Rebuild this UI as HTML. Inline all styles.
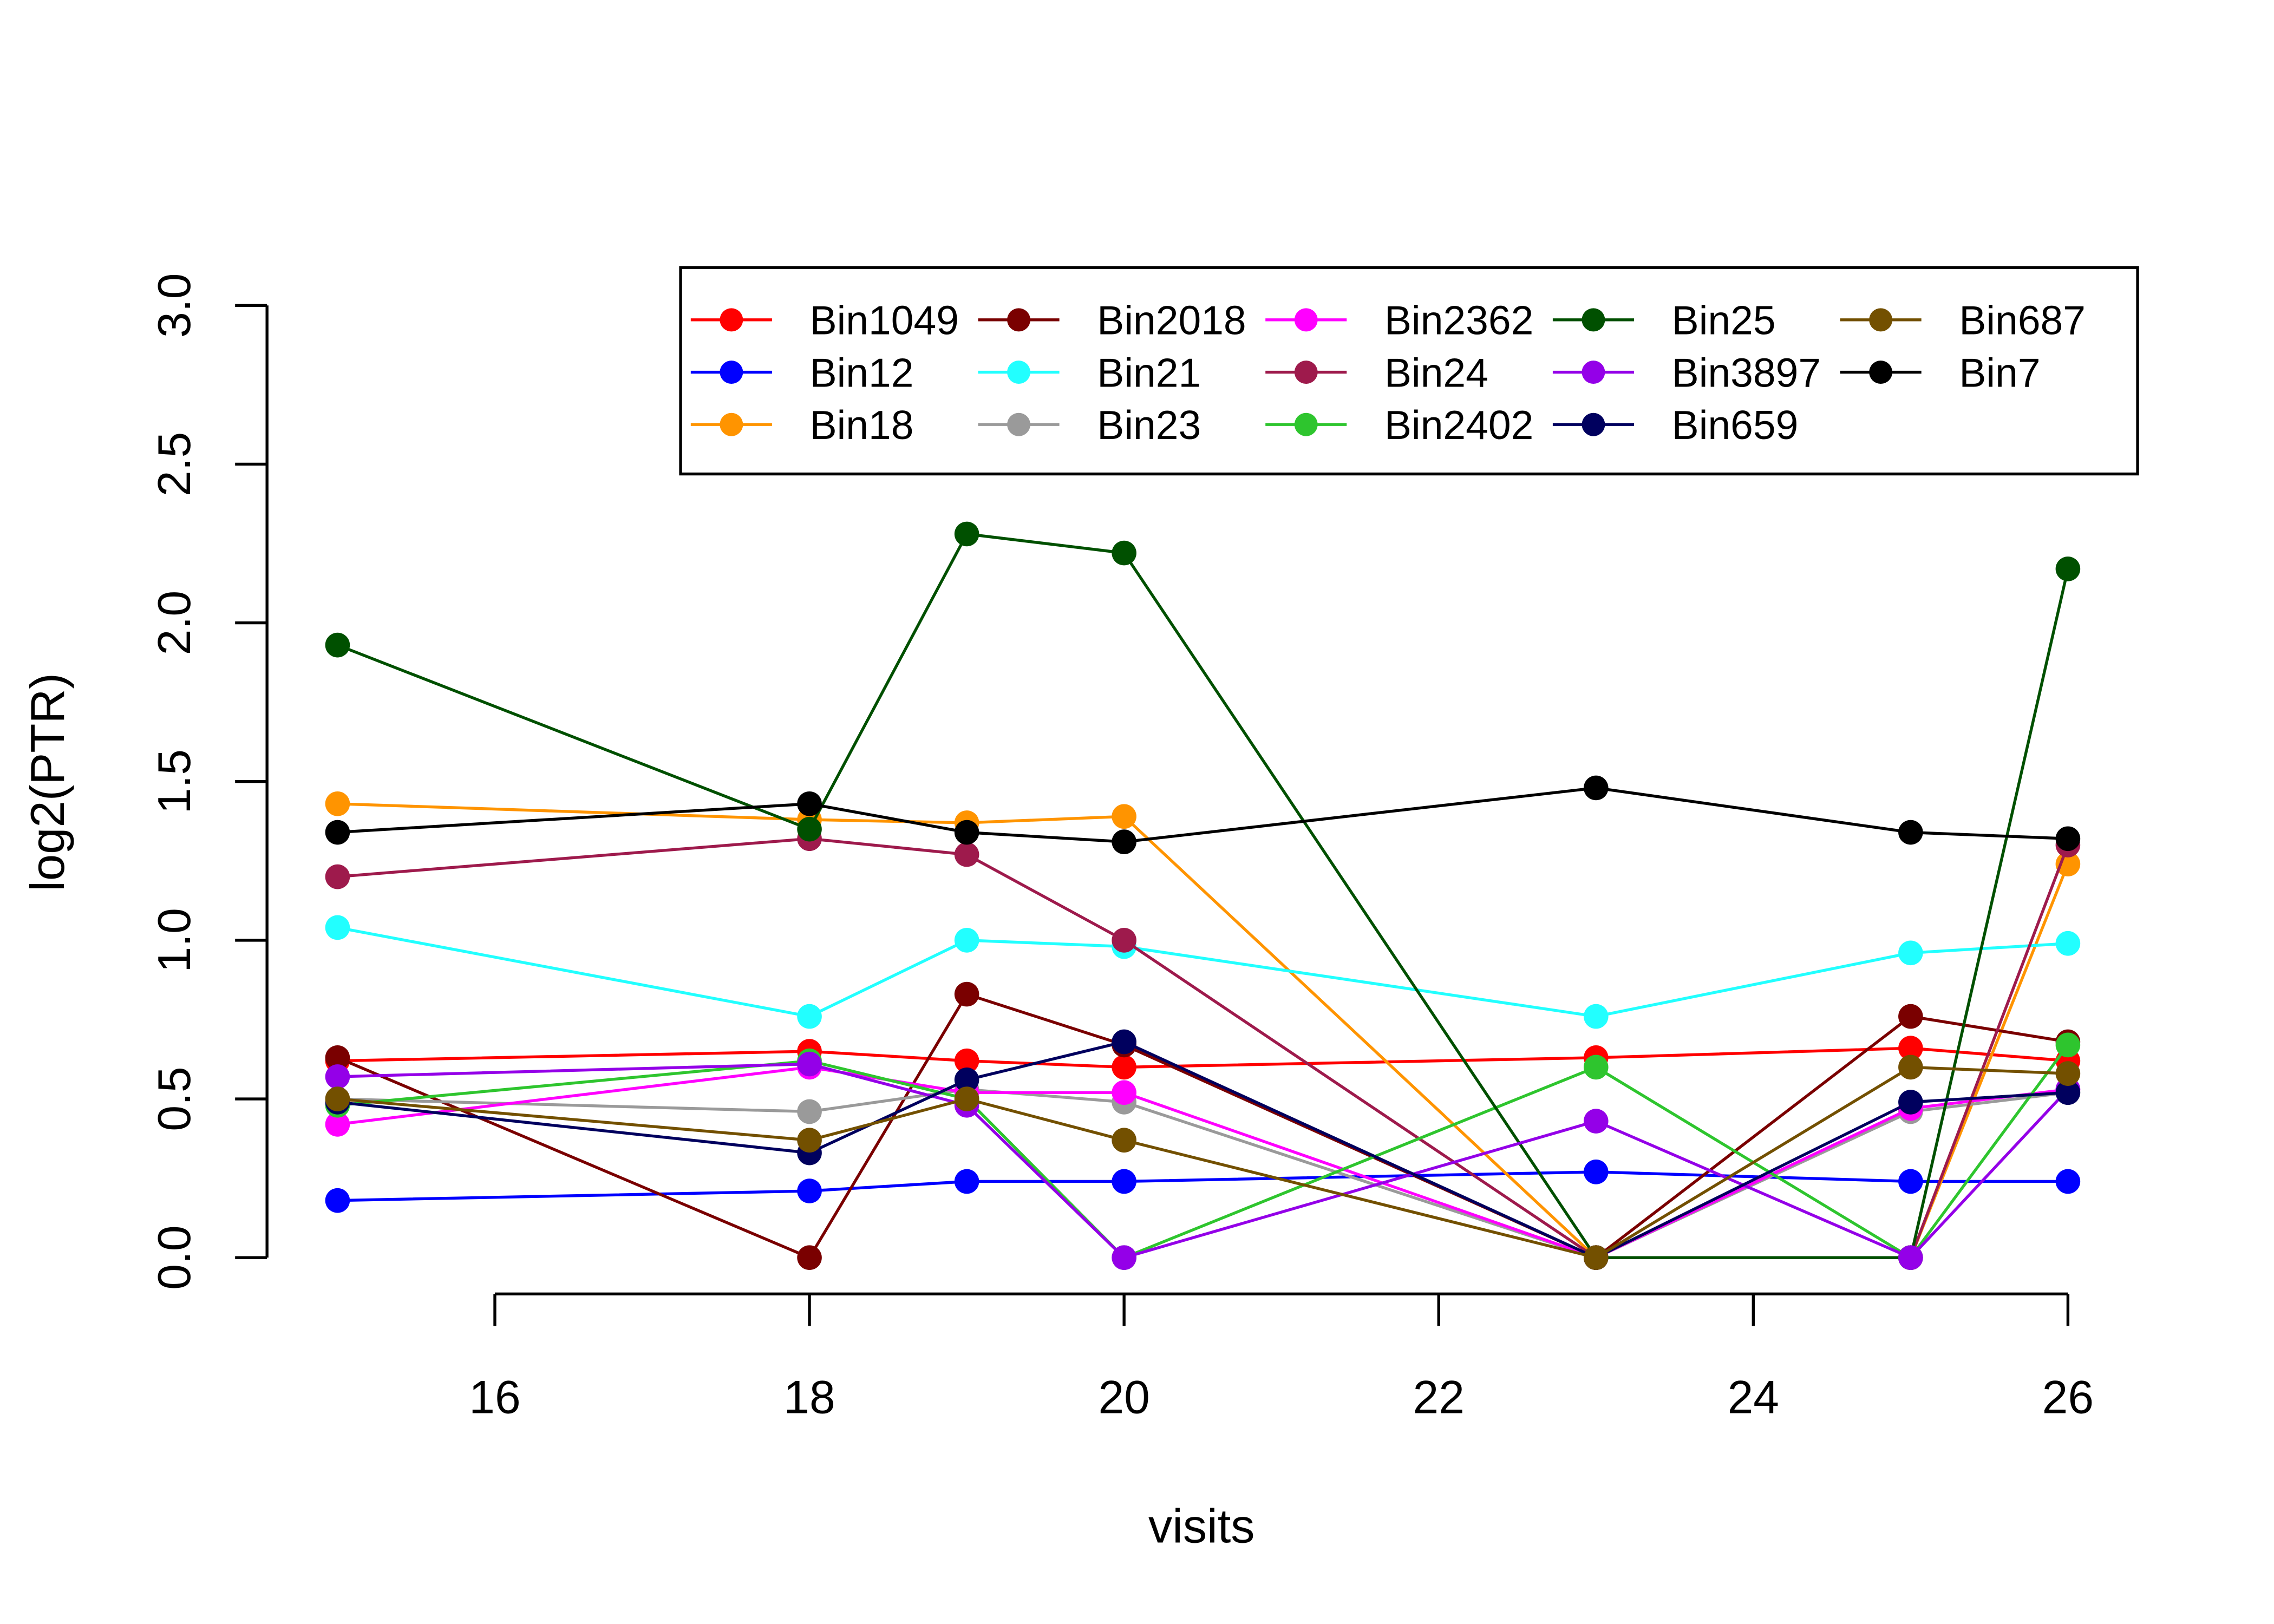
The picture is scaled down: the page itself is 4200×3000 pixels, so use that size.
<!DOCTYPE html>
<html><head><meta charset="utf-8"><style>html,body{margin:0;padding:0;background:#fff}svg{display:block}</style></head>
<body>
<svg id="chart" width="4200" height="3000" viewBox="0 0 1567 1117" preserveAspectRatio="none" xmlns="http://www.w3.org/2000/svg" font-family="Liberation Sans, Arial, sans-serif">
<rect width="1567" height="1117" fill="#fff"/>
<g id="axes"></g><g id="series"></g><g id="legend"></g>
</svg>
<script>
const visits = [15, 18, 19, 20, 23, 25, 26];
const xTicks = [16, 18, 20, 22, 24, 26];
const yTicks = [0, 0.5, 1, 1.5, 2, 2.5, 3];
const yTickLabels = ["0.0", "0.5", "1.0", "1.5", "2.0", "2.5", "3.0"];
const seriesNames = ["Bin1049","Bin12","Bin18","Bin2018","Bin21","Bin23","Bin2362","Bin24","Bin2402","Bin25","Bin3897","Bin659","Bin687","Bin7"];
const seriesColors = ["#ff0000","#0000ff","#ff9400","#7a0000","#22ffff","#9a9a9a","#ff00ff","#9e1a4c","#2ec52e","#005000","#9400e8","#00005e","#735000","#000000"];
const bin1049 = [0.62,0.65,0.62,0.60,0.63,0.66,0.62];
const bin12 = [0.18,0.21,0.24,0.24,0.27,0.24,0.24];
const bin18 = [1.43,1.38,1.37,1.39,0,0,1.24];
const bin2018 = [0.63,0,0.83,0.67,0,0.76,0.68];
const bin21 = [1.04,0.76,1.00,0.98,0.76,0.96,0.99];
const bin23 = [0.50,0.46,0.53,0.49,0,0.46,0.52];
const bin2362 = [0.42,0.60,0.52,0.52,0,0.47,0.53];
const bin24 = [1.20,1.32,1.27,1.00,0,0,1.30];
const bin2402 = [0.48,0.62,0.50,0,0.60,0,0.67];
const bin25 = [1.93,1.35,2.28,2.22,0,0,2.17];
const bin3897 = [0.57,0.61,0.48,0,0.43,0,0.53];
const bin659 = [0.49,0.33,0.56,0.68,0,0.49,0.52];
const bin687 = [0.50,0.37,0.50,0.37,0,0.60,0.58];
const bin7 = [1.34,1.43,1.34,1.31,1.48,1.34,1.32];
const allSeries = [bin1049,bin12,bin18,bin2018,bin21,bin23,bin2362,bin24,bin2402,bin25,bin3897,bin659,bin687,bin7];

const NS = "http://www.w3.org/2000/svg";
const xs = v => 341 + (v - 16) * 108.4;
const ys = v => 865 - v * 218.3;
function mk(tag, attrs, parent, text) {
  const e = document.createElementNS(NS, tag);
  for (const k in attrs) e.setAttribute(k, attrs[k]);
  if (text !== undefined) e.textContent = text;
  parent.appendChild(e);
  return e;
}
const axes = document.getElementById('axes');
let yl = mk('line', {x1:184, y1:ys(0), x2:184, y2:ys(3), stroke:'#000', 'stroke-width':2}, axes);


yTicks.forEach((t, i) => {
  const tk = mk('line', {x1:162, y1:ys(t), x2:184, y2:ys(t), stroke:'#000', 'stroke-width':2}, axes);
  
  
  const lb = mk('text', {x:0, y:0, 'font-size':32, 'text-anchor':'middle', transform:`translate(131,${ys(t)}) rotate(-90)`}, axes, yTickLabels[i]);
  
  
});
let xl = mk('line', {x1:xs(16), y1:890, x2:xs(26), y2:890, stroke:'#000', 'stroke-width':2}, axes);


xTicks.forEach(t => {
  const tk = mk('line', {x1:xs(t), y1:890, x2:xs(t), y2:912, stroke:'#000', 'stroke-width':2}, axes);
  
  
  const lb = mk('text', {x:xs(t), y:972, 'font-size':32, 'text-anchor':'middle'}, axes, String(t));
  
  
});
let xt = mk('text', {x:828, y:1061, 'font-size':33, 'text-anchor':'middle'}, axes, 'visits');


let yt = mk('text', {x:0, y:0, 'font-size':33, 'text-anchor':'middle', transform:'translate(44,538) rotate(-90)'}, axes, 'log2(PTR)');



const sg = document.getElementById('series');
allSeries.forEach((vals, si) => {
  const g = mk('g', {}, sg);
  
  
  const pts = vals.map((v, i) => xs(visits[i]) + ',' + ys(v)).join(' ');
  const pl = mk('polyline', {points:pts, fill:'none', stroke:seriesColors[si], 'stroke-width':2}, g);
  
  
  vals.forEach((v, i) => {
    const c = mk('circle', {cx:xs(visits[i]), cy:ys(v), r:8.5, fill:seriesColors[si]}, g);
    
    
  });
});

const lg = document.getElementById('legend');


mk('rect', {x:469, y:184, width:1004, height:142, fill:'#fff', stroke:'#000', 'stroke-width':2}, lg);
seriesNames.forEach((n, i) => {
  const col = Math.floor(i / 3), row = i % 3;
  const x0 = 476 + col * 198, y0 = 220 + row * 36;
  const g = mk('g', {}, lg);
  
  
  mk('line', {x1:x0, y1:y0, x2:x0+56, y2:y0, stroke:seriesColors[i], 'stroke-width':2}, g);
  mk('circle', {cx:x0+28, cy:y0, r:8, fill:seriesColors[i]}, g);
  mk('text', {x:x0+82, y:y0+10, 'font-size':28}, g, n);
});
</script>
</body></html>
